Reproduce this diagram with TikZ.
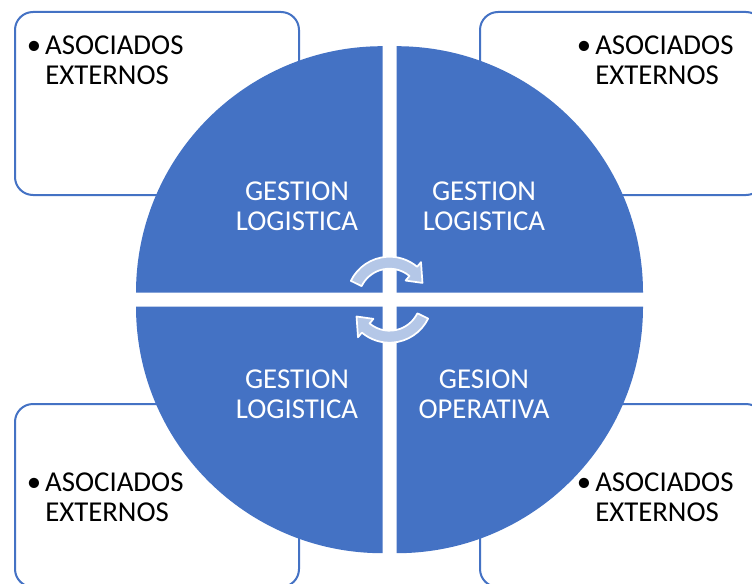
\documentclass[tikz,border=0pt]{standalone}
\usepackage{fontspec}
\setmainfont{Carlito}
\usepackage{xcolor}
\usetikzlibrary{calc}

\definecolor{quadblue}{HTML}{4472C4}
\definecolor{arrowtint}{HTML}{B4C7E7}

\begin{document}
\begin{tikzpicture}[
  x=0.75pt, y=0.75pt,
  every node/.style={font=\fontsize{21.6}{22.8}\selectfont, inner sep=0pt},
  partner/.style={draw=quadblue, line width=1.5pt, rounded corners=13.5pt, fill=white},
  quad/.style={fill=quadblue},
  cyclearrow/.style={fill=arrowtint, draw=white, line width=1.3pt, line join=round},
  quadlabel/.style={text=white, align=center},
  partnerlabel/.style={text=black, align=left, anchor=west}
]
\useasboundingbox (0,0) rectangle (752,583);
\coordinate (C) at (389.5,283.3);

% partner boxes behind the circle
\draw[partner] (15,388) rectangle (299,571);
\draw[partner] (480,388) rectangle (764,571);
\draw[partner] (15,-4) rectangle (299,179);
\draw[partner] (480,-4) rectangle (764,179);

\node[partnerlabel] (ptl) at (45,523) {\llap{\textbullet\hspace{3pt}}ASOCIADOS\\EXTERNOS};
\node[partnerlabel] (ptr) at (595,523) {\llap{\textbullet\hspace{3pt}}ASOCIADOS\\EXTERNOS};
\node[partnerlabel] (pbl) at (45,86) {\llap{\textbullet\hspace{3pt}}ASOCIADOS\\EXTERNOS};
\node[partnerlabel] (pbr) at (595,86) {\llap{\textbullet\hspace{3pt}}ASOCIADOS\\EXTERNOS};

% four quarters of the circle
\fill[quad] ($(C)+(-7,7)$) -- ++(180:246.5) arc[start angle=180, end angle=90, radius=246.5] -- cycle;
\fill[quad] ($(C)+(7,7)$) -- ++(90:246.5) arc[start angle=90, end angle=0, radius=246.5] -- cycle;
\fill[quad] ($(C)+(-7,-7)$) -- ++(270:246.5) arc[start angle=270, end angle=180, radius=246.5] -- cycle;
\fill[quad] ($(C)+(7,-7)$) -- ++(0:246.5) arc[start angle=0, end angle=-90, radius=246.5] -- cycle;

\node[quadlabel] (qtl) at (297,377) {GESTION\\LOGISTICA};
\node[quadlabel] (qtr) at (484,377) {GESTION\\LOGISTICA};
\node[quadlabel] (qbl) at (297,189) {GESTION\\LOGISTICA};
\node[quadlabel] (qbr) at (484,189) {GESION\\OPERATIVA};

% circular arrows in the middle
\foreach \rot in {0,180} {
  \begin{scope}[shift={(C)}, rotate=\rot]
    \filldraw[cyclearrow] (154:43) arc[start angle=154, end angle=50, radius=43]
      -- (50:49) -- (27:37) -- (50:25) -- (50:31)
      arc[start angle=50, end angle=154, radius=31] -- cycle;
  \end{scope}
}
\end{tikzpicture}
\end{document}
